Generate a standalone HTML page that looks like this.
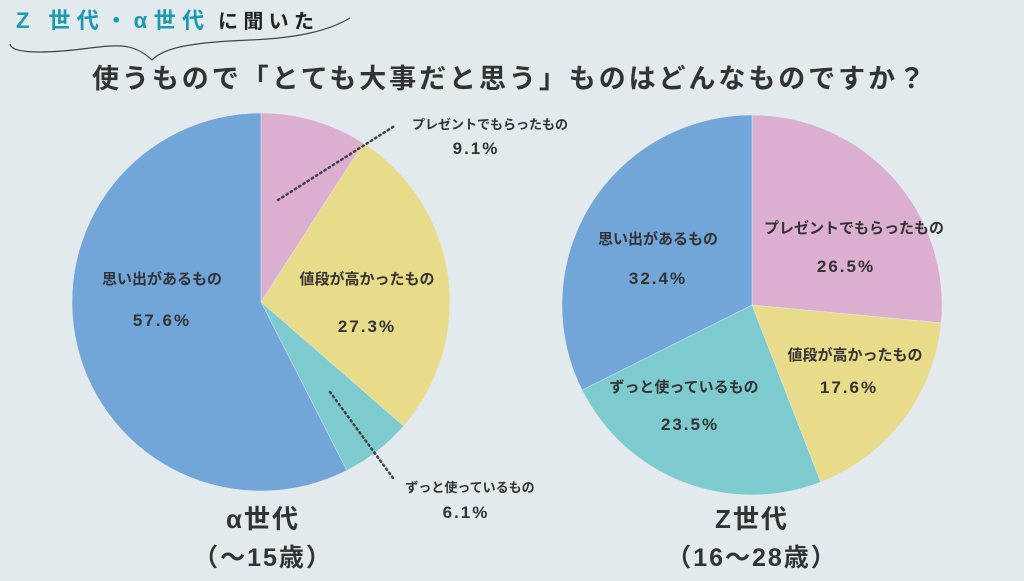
<!DOCTYPE html>
<html><head><meta charset="utf-8"><style>
html,body{margin:0;padding:0}
body{width:1024px;height:576px;background:#e2eaee;overflow:hidden;font-family:"Liberation Sans","Noto Sans CJK JP",sans-serif}
</style></head><body>
<svg width="1024" height="576" viewBox="0 0 1024 576" xmlns="http://www.w3.org/2000/svg" style="font-family:'Liberation Sans','Noto Sans CJK JP',sans-serif;font-weight:bold">
<text x="16" y="28" font-size="22" fill="#1a9bb0" textLength="188" lengthAdjust="spacing">Z 世代・α世代</text>
<text x="218" y="28" font-size="20" fill="#222" textLength="96" lengthAdjust="spacing">に聞いた</text>
<path d="M10 44 C12 56,60 52,90 48 C120 44,135 44,152 60 C165 46,200 42,250 40 C300 38,330 30,350 18" fill="none" stroke="#444" stroke-width="1.2"/>
<text x="92" y="88" font-size="27" fill="#333" textLength="833" lengthAdjust="spacing">使うもので「とても大事だと思う」ものはどんなものですか？</text>
<g stroke="#e2eaee" stroke-width="0.5">
<path d="M261 302 L261 113 A189 189 0 0 1 363.4 143.1 Z" fill="#dcaecf"/>
<path d="M261 302 L363.4 143.1 A189 189 0 0 1 403.6 426 Z" fill="#e8dc8a"/>
<path d="M261 302 L403.6 426 A189 189 0 0 1 346.8 470.4 Z" fill="#7ecbcf"/>
<path d="M261 302 L346.8 470.4 A189 189 0 1 1 261 113 Z" fill="#72a5d8"/>
<path d="M752 305 L752 115 A190 190 0 0 1 941.2 322.9 Z" fill="#dcaecf"/>
<path d="M752 305 L941.2 322.9 A190 190 0 0 1 820.7 482.1 Z" fill="#e8dc8a"/>
<path d="M752 305 L820.7 482.1 A190 190 0 0 1 582.1 390.1 Z" fill="#7ecbcf"/>
<path d="M752 305 L582.1 390.1 A190 190 0 0 1 752 115 Z" fill="#72a5d8"/>
</g>
<path d="M278 200 L396 125" stroke="#444" stroke-width="2.5" stroke-dasharray="1.5 3.5" stroke-linecap="round" fill="none"/>
<path d="M330 392 L393 478" stroke="#444" stroke-width="2.5" stroke-dasharray="1.5 3.5" stroke-linecap="round" fill="none"/>
<g fill="#333" text-anchor="middle">
<text x="490" y="129" font-size="13">プレゼントでもらったもの</text>
<text x="476" y="154" font-size="17" letter-spacing="2">9.1%</text>
<text x="470" y="492" font-size="13">ずっと使っているもの</text>
<text x="466" y="518" font-size="17" letter-spacing="2">6.1%</text>
<text x="162" y="284" font-size="15">思い出があるもの</text>
<text x="162" y="326" font-size="17" letter-spacing="2">57.6%</text>
<text x="367" y="284" font-size="15">値段が高かったもの</text>
<text x="367" y="332" font-size="17" letter-spacing="2">27.3%</text>
<text x="658" y="244" font-size="15">思い出があるもの</text>
<text x="658" y="284" font-size="17" letter-spacing="2">32.4%</text>
<text x="854" y="233" font-size="15">プレゼントでもらったもの</text>
<text x="846" y="272" font-size="17" letter-spacing="2">26.5%</text>
<text x="855" y="360" font-size="15">値段が高かったもの</text>
<text x="849" y="393" font-size="17" letter-spacing="2">17.6%</text>
<text x="684" y="392" font-size="15">ずっと使っているもの</text>
<text x="690" y="430" font-size="17" letter-spacing="2">23.5%</text>
<text x="263" y="528" font-size="26" letter-spacing="2">α世代</text>
<text x="263" y="566" font-size="25" letter-spacing="2">（～15歳）</text>
<text x="752" y="528" font-size="26" letter-spacing="2">Z世代</text>
<text x="752" y="566" font-size="25" letter-spacing="2">（16～28歳）</text>
</g>
</svg>
</body></html>
